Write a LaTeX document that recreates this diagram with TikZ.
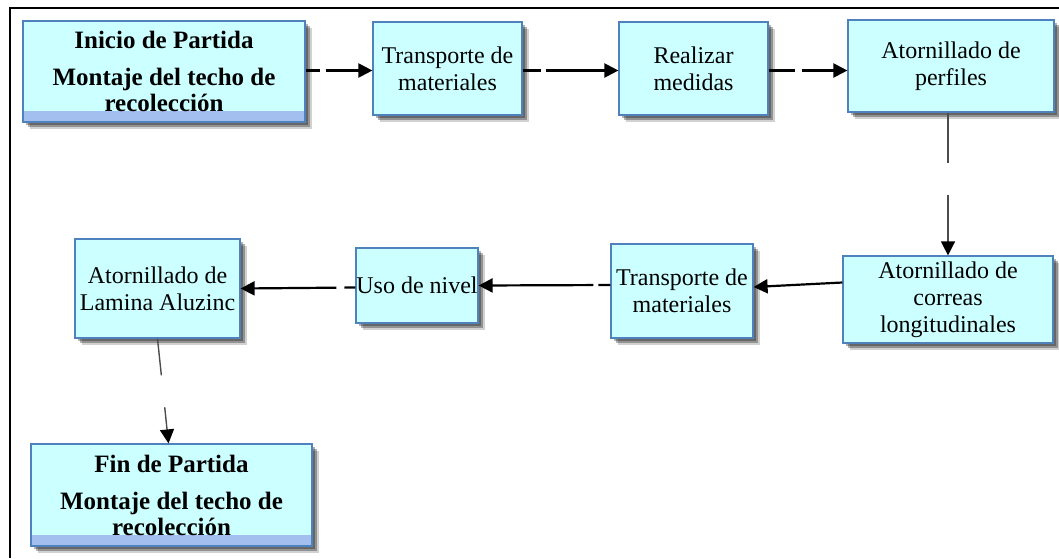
\documentclass[tikz,border=0pt]{standalone}
\usepackage{fontspec}
\setmainfont{Liberation Serif}
\usetikzlibrary{shadows,arrows.meta}
\definecolor{boxfill}{HTML}{CCFFFF}
\definecolor{boxline}{HTML}{4F81BD}
\definecolor{bandc}{HTML}{A3BFF0}
\begin{document}
\begin{tikzpicture}[x=0.5pt,y=-0.5pt,
  box/.style={draw=boxline, line width=0.6pt, fill=boxfill, inner sep=0pt, align=center,
    font=\fontsize{12}{13.5}\selectfont,
    drop shadow={shadow xshift=3.5pt, shadow yshift=-3.5pt, fill=black, opacity=0.18},
    drop shadow={shadow xshift=2.5pt, shadow yshift=-2.5pt, fill=black, opacity=0.3},
    drop shadow={shadow xshift=1.5pt, shadow yshift=-1.5pt, fill=black, opacity=0.3}},
  endbox/.style={box, font=\bfseries\fontsize{12.5}{13}\selectfont,
    path picture={\fill[bandc] ([yshift=5.5pt]path picture bounding box.south west) rectangle (path picture bounding box.south east);}},
  conn/.style={line width=1.1pt, -{Triangle[length=7pt,width=7pt]}},
  vconn/.style={line width=0.7pt, draw=black!70, -{Triangle[length=7pt,width=7pt,color=black]}}
]
\useasboundingbox (0,0) rectangle (1059,558);
\draw[line width=1pt] (1059,8) -- (10,8) -- (10,558);

\node[endbox, minimum width=141pt, minimum height=50.5pt] (inicio) at (164,71.5)
  {Inicio de Partida\\[5.5pt]Montaje del techo de\\recolección};
\node[box, minimum width=74.5pt, minimum height=46.5pt] (trans1) at (447.5,68.5) {Transporte de\\materiales};
\node[box, minimum width=74.5pt, minimum height=46.5pt] (realizar) at (693.5,68.5) {Realizar\\medidas};
\node[box, minimum width=103pt, minimum height=46pt] (perfiles) at (951,66) {Atornillado de\\perfiles};
\node[box, minimum width=105pt, minimum height=43.5pt] (correas) at (948,299.5) {Atornillado de\\correas\\longitudinales};
\node[box, minimum width=71pt, minimum height=47pt] (trans2) at (682,291) {Transporte de\\materiales};
\node[box, minimum width=61pt, minimum height=37.5pt] (uso) at (417,285.5) {Uso de nivel};
\node[box, minimum width=82.5pt, minimum height=49.5pt] (lamina) at (157.5,288.5) {Atornillado de\\Lamina Aluzinc};
\node[endbox, minimum width=140.5pt, minimum height=51pt] (fin) at (171.5,495)
  {Fin de Partida\\[5.5pt]Montaje del techo de\\recolección};

\draw[conn, dash pattern=on 7pt off 3pt on 60pt] ([yshift=-1pt]trans1.west -| inicio.east) -- ([yshift=-1pt]trans1.west);
\draw[conn, dash pattern=on 9pt off 2.5pt on 80pt] ([yshift=-1pt]trans1.east) -- ([yshift=-1pt]realizar.west);
\draw[conn, dash pattern=on 13pt off 3.5pt on 60pt] ([yshift=-1pt]realizar.east) -- ([yshift=-1pt]realizar.east -| perfiles.west);
\draw[vconn, dash pattern=on 25pt off 16pt on 80pt] (perfiles.south -| correas.north) -- (correas.north);
\draw[conn] ([yshift=8.5pt]correas.west) -- ([yshift=2pt]trans2.east);
\draw[conn, dash pattern=on 6pt off 2.5pt on 90pt] ([yshift=3pt]trans2.west) -- (uso.east);
\draw[conn, dash pattern=on 5.5pt off 4pt on 80pt] ([yshift=-1pt]uso.west) -- (lamina.east);
\draw[vconn, dash pattern=on 18.5pt off 16pt on 60pt] (lamina.south) -- ([xshift=-1.5pt]fin.north);
\end{tikzpicture}
\end{document}
